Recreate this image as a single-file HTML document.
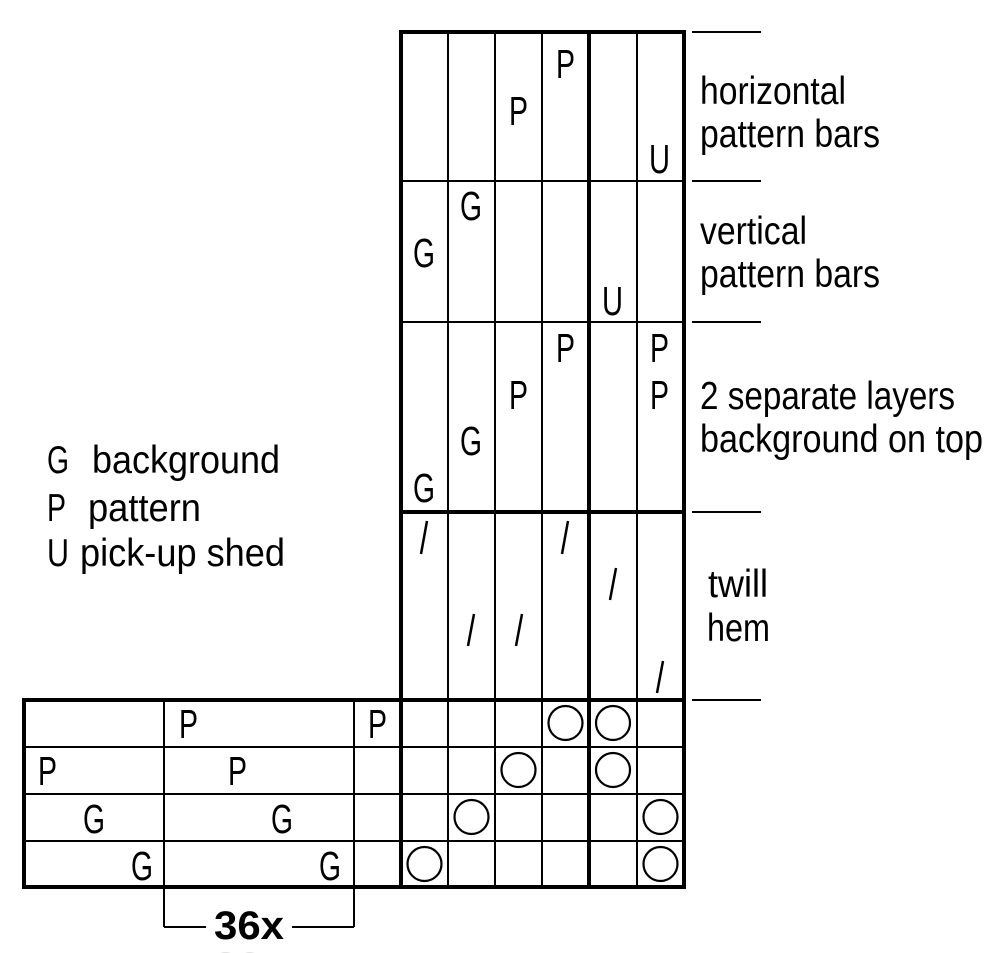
<!DOCTYPE html>
<html><head><meta charset="utf-8"><style>
html,body{margin:0;padding:0;background:#fff;}
svg{display:block;}
text{font-family:"Liberation Sans Narrow","Liberation Sans",sans-serif;fill:#000;white-space:pre;}
</style></head><body>
<svg width="1000" height="953" viewBox="0 0 1000 953" xmlns="http://www.w3.org/2000/svg">
<g stroke="#000" fill="none">
  <g stroke-width="2">
    <line x1="448" y1="32" x2="448" y2="887"/>
    <line x1="495" y1="32" x2="495" y2="887"/>
    <line x1="542" y1="32" x2="542" y2="887"/>
    <line x1="637" y1="32" x2="637" y2="887"/>
    <line x1="401" y1="181" x2="684" y2="181"/>
    <line x1="401" y1="322" x2="684" y2="322"/>
    <line x1="24" y1="747" x2="684" y2="747"/>
    <line x1="24" y1="794" x2="684" y2="794"/>
    <line x1="24" y1="841" x2="684" y2="841"/>
    <line x1="164" y1="700" x2="164" y2="927"/>
    <line x1="354" y1="700" x2="354" y2="927"/>
    <line x1="164" y1="927" x2="206" y2="927"/>
    <line x1="292" y1="927" x2="354" y2="927"/>
    <line x1="692" y1="32" x2="761" y2="32"/>
    <line x1="692" y1="181" x2="761" y2="181"/>
    <line x1="692" y1="322" x2="761" y2="322"/>
    <line x1="692" y1="512" x2="761" y2="512"/>
    <line x1="692" y1="700" x2="761" y2="700"/>
  </g>
  <g stroke-width="4">
    <line x1="401" y1="30" x2="401" y2="889"/>
    <line x1="589" y1="30" x2="589" y2="889"/>
    <line x1="684" y1="30" x2="684" y2="889"/>
    <line x1="399" y1="32" x2="686" y2="32"/>
    <line x1="401" y1="512" x2="684" y2="512"/>
    <line x1="22" y1="700" x2="686" y2="700"/>
    <line x1="22" y1="887" x2="686" y2="887"/>
    <line x1="24" y1="698" x2="24" y2="889"/>
  </g>
  <g stroke-width="2.5">
    <line x1="427" y1="521" x2="421" y2="554"/>
    <line x1="568" y1="521" x2="562" y2="554"/>
    <line x1="616" y1="568" x2="610" y2="600"/>
    <line x1="474" y1="614" x2="468" y2="646"/>
    <line x1="522" y1="614" x2="516" y2="646"/>
    <line x1="663" y1="661" x2="657" y2="693"/>
  </g>
  <g stroke-width="2.2">
    <circle cx="565.5" cy="723" r="17"/>
    <circle cx="613" cy="723" r="17"/>
    <circle cx="518.5" cy="770" r="17"/>
    <circle cx="613" cy="770" r="17"/>
    <circle cx="471.5" cy="817" r="17"/>
    <circle cx="660.5" cy="817" r="17"/>
    <circle cx="424.5" cy="864" r="17"/>
    <circle cx="660.5" cy="864" r="17"/>
  </g>
</g>
<g font-size="41">
  <text x="509" y="125" textLength="19" lengthAdjust="spacingAndGlyphs">P</text>
  <text x="556" y="78" textLength="19" lengthAdjust="spacingAndGlyphs">P</text>
  <text x="649" y="173" textLength="21" lengthAdjust="spacingAndGlyphs">U</text>
  <text x="413" y="267" textLength="22" lengthAdjust="spacingAndGlyphs">G</text>
  <text x="460" y="220" textLength="22" lengthAdjust="spacingAndGlyphs">G</text>
  <text x="602" y="315" textLength="21" lengthAdjust="spacingAndGlyphs">U</text>
  <text x="556" y="362" textLength="19" lengthAdjust="spacingAndGlyphs">P</text>
  <text x="509" y="409" textLength="19" lengthAdjust="spacingAndGlyphs">P</text>
  <text x="460" y="455" textLength="22" lengthAdjust="spacingAndGlyphs">G</text>
  <text x="413" y="502" textLength="22" lengthAdjust="spacingAndGlyphs">G</text>
  <text x="650" y="362" textLength="19" lengthAdjust="spacingAndGlyphs">P</text>
  <text x="650" y="409" textLength="19" lengthAdjust="spacingAndGlyphs">P</text>
  <text x="179" y="738" textLength="19" lengthAdjust="spacingAndGlyphs">P</text>
  <text x="368" y="738" textLength="19" lengthAdjust="spacingAndGlyphs">P</text>
  <text x="38" y="785" textLength="19" lengthAdjust="spacingAndGlyphs">P</text>
  <text x="228" y="785" textLength="19" lengthAdjust="spacingAndGlyphs">P</text>
  <text x="83" y="833" textLength="22" lengthAdjust="spacingAndGlyphs">G</text>
  <text x="271" y="833" textLength="22" lengthAdjust="spacingAndGlyphs">G</text>
  <text x="131" y="880" textLength="22" lengthAdjust="spacingAndGlyphs">G</text>
  <text x="319" y="880" textLength="22" lengthAdjust="spacingAndGlyphs">G</text>
</g>
<g font-size="39">
  <text x="700" y="104" textLength="146" lengthAdjust="spacingAndGlyphs">horizontal</text>
  <text x="700" y="147" textLength="180" lengthAdjust="spacingAndGlyphs">pattern bars</text>
  <text x="700" y="244" textLength="107" lengthAdjust="spacingAndGlyphs">vertical</text>
  <text x="700" y="287" textLength="180" lengthAdjust="spacingAndGlyphs">pattern bars</text>
  <text x="700" y="409" textLength="255" lengthAdjust="spacingAndGlyphs">2 separate layers</text>
  <text x="700" y="452" textLength="283" lengthAdjust="spacingAndGlyphs">background on top</text>
  <text x="708" y="597" textLength="60" lengthAdjust="spacingAndGlyphs">twill</text>
  <text x="707" y="641" textLength="63" lengthAdjust="spacingAndGlyphs">hem</text>
  <text x="47" y="473" textLength="22" lengthAdjust="spacingAndGlyphs">G</text>
  <text x="92" y="473" textLength="188" lengthAdjust="spacingAndGlyphs">background</text>
  <text x="47" y="521" textLength="19" lengthAdjust="spacingAndGlyphs">P</text>
  <text x="88" y="521" textLength="113" lengthAdjust="spacingAndGlyphs">pattern</text>
  <text x="47" y="566" textLength="22" lengthAdjust="spacingAndGlyphs">U</text>
  <text x="80" y="566" textLength="205" lengthAdjust="spacingAndGlyphs">pick-up shed</text>
</g>
<text x="249" y="939" font-size="40" font-weight="bold" text-anchor="middle" textLength="70" lengthAdjust="spacingAndGlyphs">36x</text>
<text x="249" y="980" font-size="40" font-weight="bold" text-anchor="middle" style="fill:#ddd" textLength="70" lengthAdjust="spacingAndGlyphs">36x</text>
</svg>
</body></html>
